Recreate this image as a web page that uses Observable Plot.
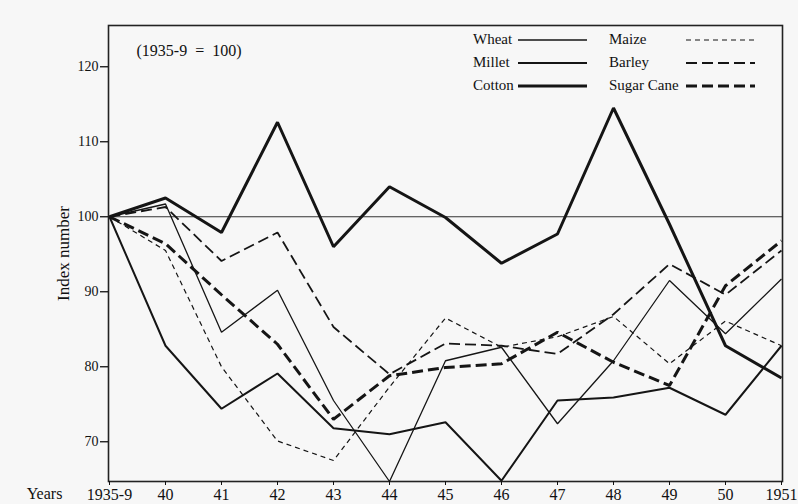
<!DOCTYPE html>
<html><head><meta charset="utf-8">
<script src="https://cdn.jsdelivr.net/npm/d3@7"></script>
<script src="https://cdn.jsdelivr.net/npm/@observablehq/plot@0.6"></script>
<style>
html,body{margin:0;padding:0;background:#f7f7f7;}
#wrap{position:relative;width:798px;height:504px;font-family:"Liberation Serif",serif;color:#111;}
#wrap svg{display:block;}
.lg-text{position:absolute;font-size:15px;line-height:18px;white-space:nowrap;}
.lg-line{position:absolute;}
</style></head><body><div id="wrap"></div><script>
// --- data ---
const years = ["1935-9","40","41","42","43","44","45","46","47","48","49","50","1951"];
const yTicks = [70, 80, 90, 100, 110, 120];
const seriesNames = ["Wheat","Millet","Cotton","Maize","Barley","Sugar Cane"];
const wheat     = [100, 101.7, 84.6, 90.2, 75.5, 64.7, 80.8, 82.6, 72.4, 80.8, 91.5, 84.4, 91.7];
const millet    = [100, 82.8, 74.4, 79.1, 71.8, 71.0, 72.6, 64.8, 75.5, 75.9, 77.2, 73.6, 82.8];
const cotton    = [100, 102.5, 97.9, 112.6, 96.0, 104.0, 99.9, 93.8, 97.7, 114.5, 99.0, 82.8, 78.5];
const maize     = [100, 95.5, 80.0, 70.1, 67.5, 77.3, 86.5, 82.6, 84.0, 86.7, 80.4, 86.1, 82.8];
const barley    = [100, 101.3, 94.1, 97.9, 85.3, 79.0, 83.1, 82.8, 81.7, 87.0, 93.7, 89.6, 95.5];
const sugarCane = [100, 96.4, 89.6, 83.0, 73.0, 78.8, 79.9, 80.4, 84.6, 80.6, 77.5, 90.8, 96.8];
const seriesValues = [wheat, millet, cotton, maize, barley, sugarCane];

// --- styles ---
const styles = {
  "Wheat":      {w: 1.3, dash: null},
  "Millet":     {w: 2.0, dash: null},
  "Cotton":     {w: 3.0, dash: null},
  "Maize":      {w: 1.2, dash: "5,4"},
  "Barley":     {w: 1.8, dash: "11,5"},
  "Sugar Cane": {w: 3.0, dash: "11,5"}
};

const rows = seriesNames.map((name, k) => years.map((yr, i) => ({series: name, year: yr, value: seriesValues[k][i]})));

const lineMarks = rows.map((data, k) => {
  const s = styles[seriesNames[k]];
  return Plot.line(data, {x: "year", y: "value", stroke: "#151515", strokeWidth: s.w,
    strokeDasharray: s.dash || undefined, strokeLinejoin: "miter", strokeLinecap: "butt"});
});

const chart = Plot.plot({
  width: 798, height: 504,
  marginLeft: 108, marginRight: 16, marginTop: 25, marginBottom: 23,
  style: {background: "transparent", fontFamily: "'Liberation Serif', serif", fontSize: "14px", color: "#111"},
  x: {type: "point", domain: years, padding: 0},
  y: {domain: [64.7, 125.5]},
  marks: [
    Plot.ruleY([100], {stroke: "#333", strokeWidth: 1}),
    ...lineMarks,
    Plot.frame({stroke: "#222", strokeWidth: 1.6}),
    Plot.axisY({ticks: yTicks, tickSize: 8, tickPadding: 2, label: null, strokeWidth: 1.3, fontSize: 14}),
    Plot.axisX({tickSize: 4, tickPadding: 3, label: null, fontSize: 16}),
    Plot.text(["Index number"], {text: d => d, frameAnchor: "left", dx: -45, rotate: -90,
      textAnchor: "middle", lineAnchor: "middle", fontSize: 17}),
    Plot.text(["Years"], {text: d => d, frameAnchor: "bottom-left", dx: -64, dy: 12,
      textAnchor: "middle", lineAnchor: "middle", fontSize: 16}),
    Plot.text(["(1935-9\u00a0\u00a0=\u00a0\u00a0100)"], {text: d => d, frameAnchor: "top-left", dx: 28, dy: 25,
      textAnchor: "start", lineAnchor: "middle", fontSize: 16})
  ]
});
const wrap = document.getElementById("wrap");
wrap.appendChild(chart);

// --- legend ---
seriesNames.forEach((name, k) => {
  const col = k < 3 ? 0 : 1, row = k % 3;
  const cy = 40 + 23 * row;
  const t = document.createElement("div");
  t.className = "lg-text";
  t.textContent = name;
  t.style.left = (col ? 609 : 473) + "px";
  t.style.top = (cy - 10) + "px";
  wrap.appendChild(t);
  const s = styles[name];
  const svg = d3.create("svg").attr("class", "lg-line").attr("width", 70).attr("height", 8)
    .style("left", (col ? 686 : 518) + "px").style("top", (cy - 4) + "px");
  svg.append("line").attr("x1", 0).attr("x2", 69).attr("y1", 4).attr("y2", 4)
    .attr("stroke", "#151515").attr("stroke-width", s.w)
    .attr("stroke-dasharray", s.dash);
  wrap.appendChild(svg.node());
});
</script></body></html>
